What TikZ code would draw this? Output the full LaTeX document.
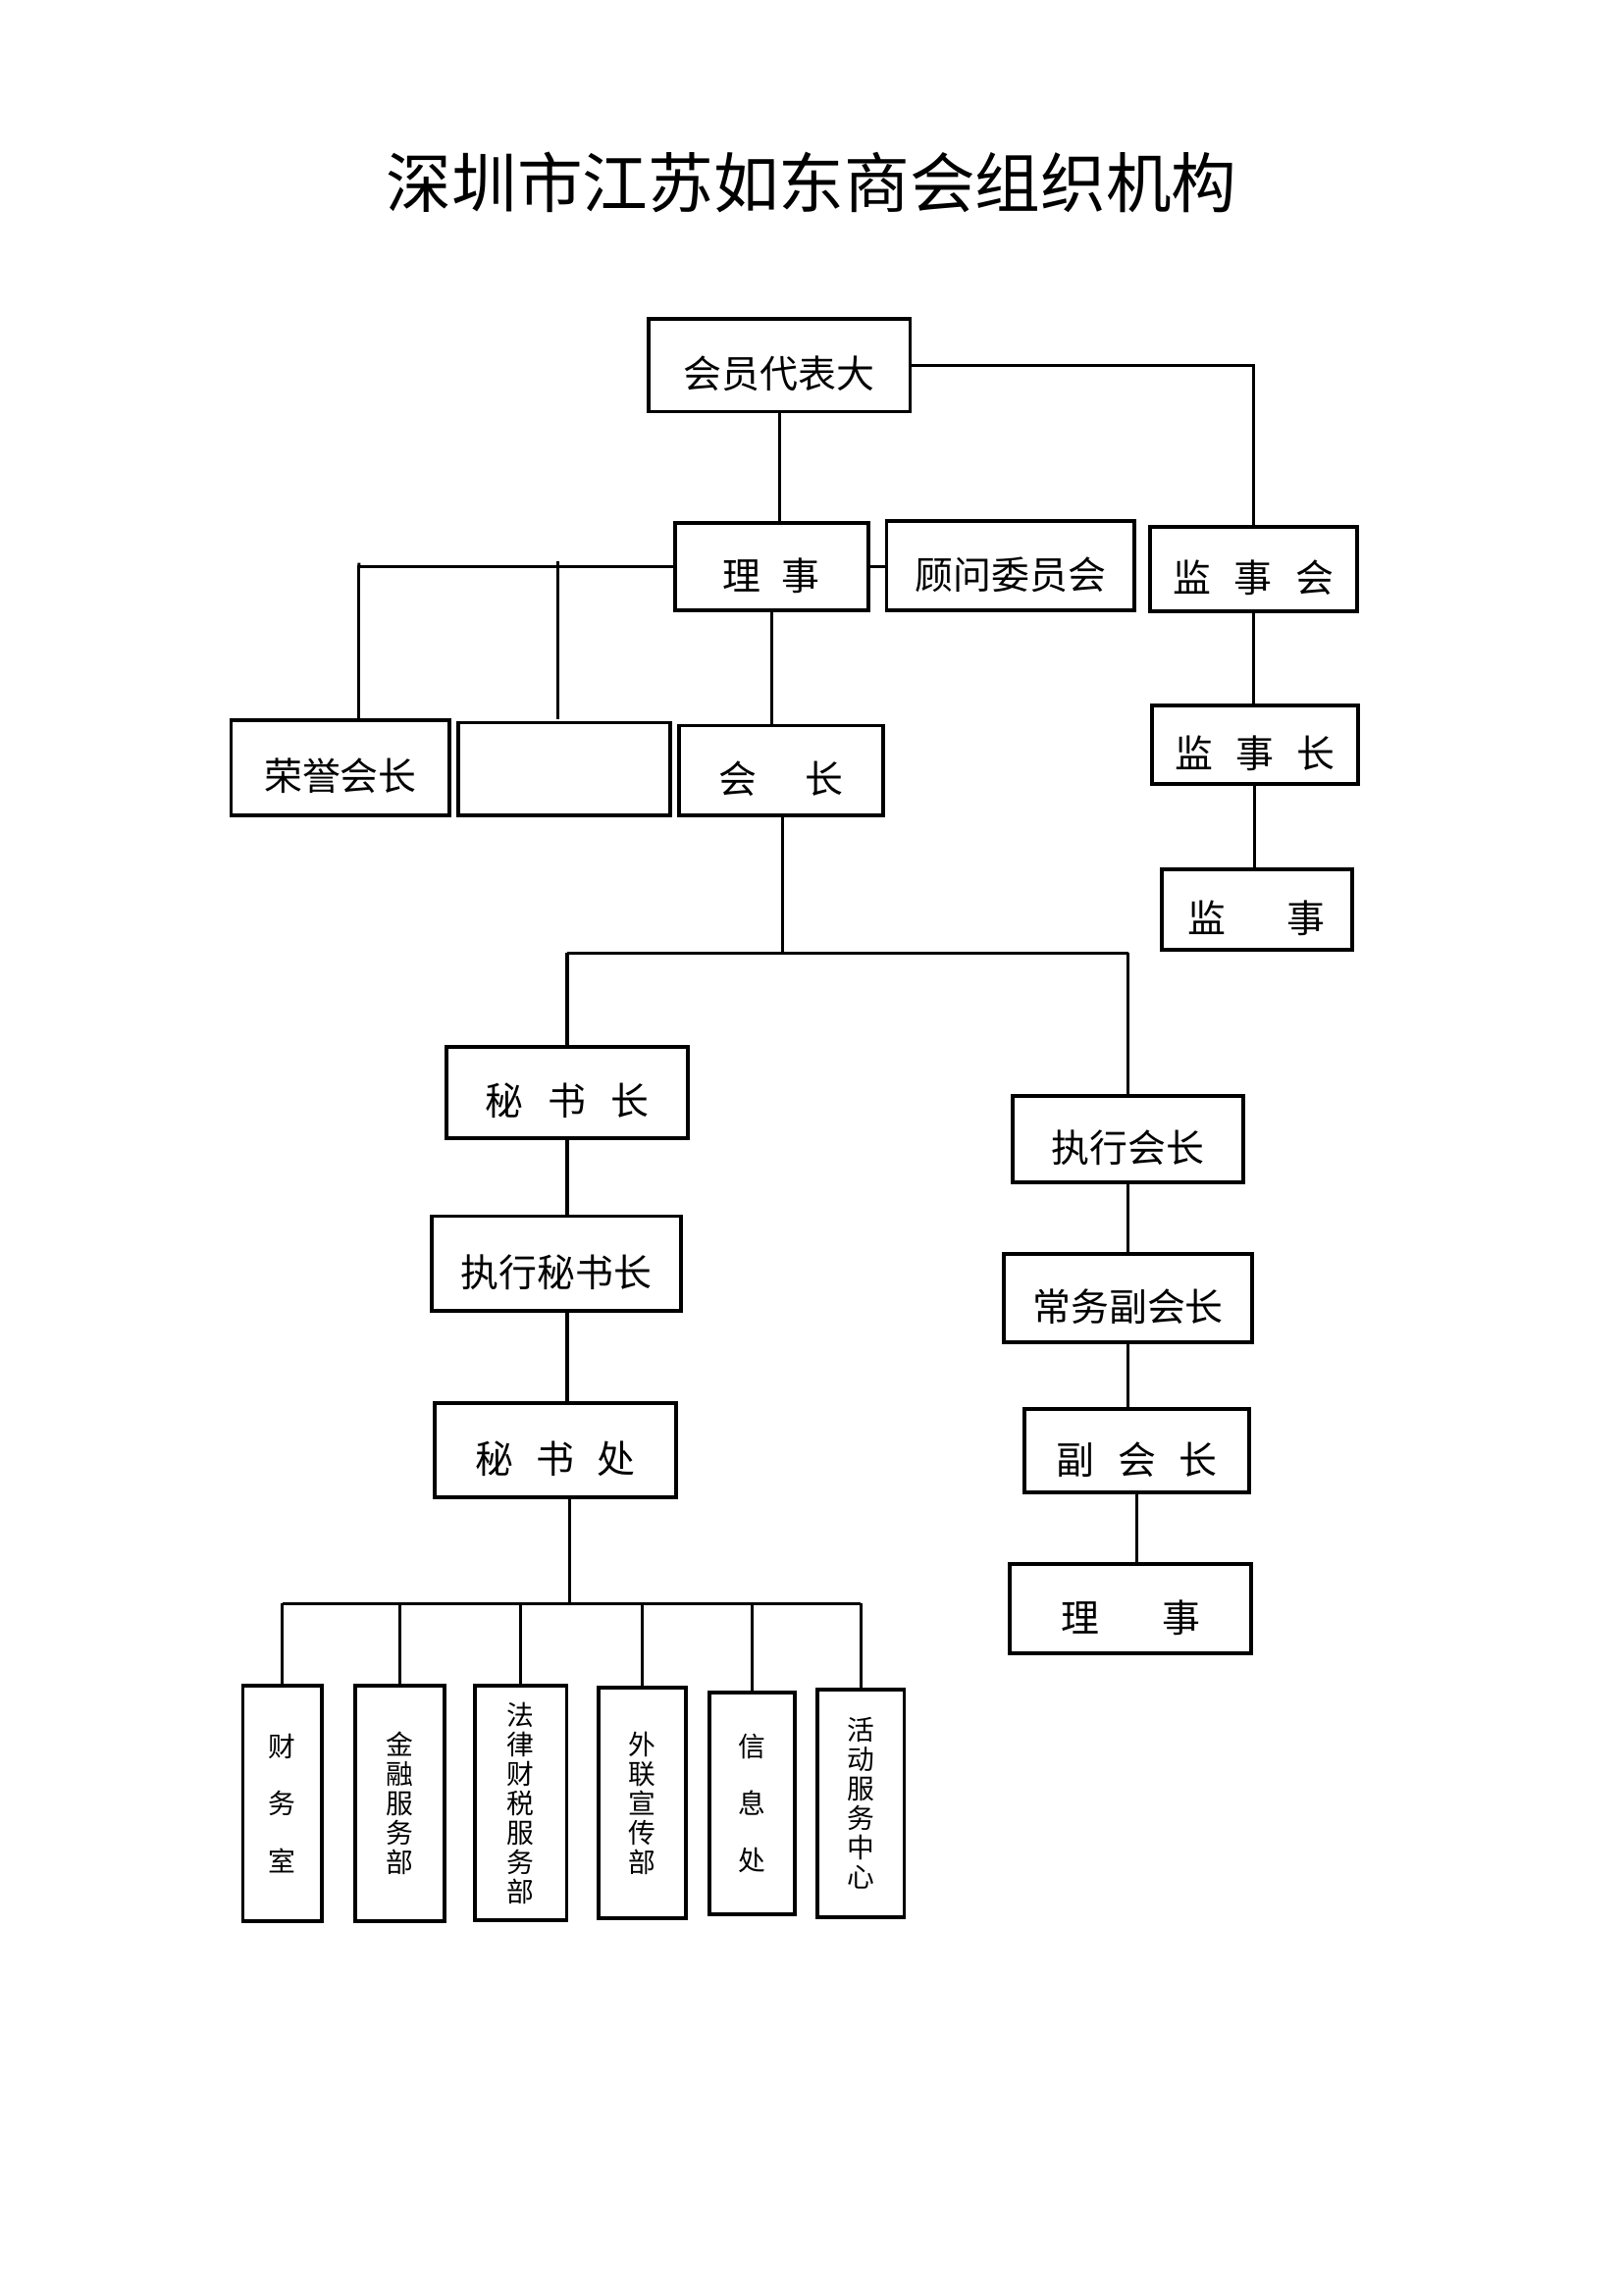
\documentclass[tikz,border=0pt]{standalone}
\usepackage{fontspec}
\setmainfont{Noto Sans CJK SC}
\newcommand{\lowtxt}[1]{\raisebox{-3.2pt}[\height][\depth]{#1}}
\newcommand{\obox}[6]{\node[box, minimum width={(#3-#1)*0.358pt}, minimum height={(#4-#2)*0.358pt}] (#5) at ({(#1+#3)/2},{(#2+#4)/2}) {\lowtxt{#6}};}
\newcommand{\vbx}[7][]{\node[box,vbox,#1, minimum width={(#4-#2)*0.358pt}, minimum height={(#5-#3)*0.358pt}] (#6) at ({(#2+#4)/2},{(#3+#5)/2}) {#7};}
\begin{document}
\begin{tikzpicture}[x=0.36pt,y=-0.36pt,
  box/.style={draw, line width=1.4pt, inner sep=0pt, outer sep=0pt, font=\fontsize{14}{16}\selectfont},
  vbox/.style={align=center, font=\fontsize{10}{10.8}\selectfont},
  conn/.style={line width=1.1pt}]
\useasboundingbox (0,0) rectangle (1654,2338);
\begin{scope}[scale=0.994]
% title
\node[font=\fontsize{24}{28}\selectfont] (title) at (832,187) {深圳市江苏如东商会组织机构};
% boxes: x1 y1 x2 y2 name text
\obox{665}{327}{933}{422}{hy}{会员代表大}
\obox{692}{536}{890}{626}{ls}{理\hspace{0.55em}事}
\obox{909}{534}{1163}{626}{gw}{顾问委员会}
\obox{1179}{540}{1391}{627}{jsh}{监\hspace{0.6em}事\hspace{0.6em}会}
\obox{237}{738}{461}{836}{ry}{荣誉会长}
\obox{470}{741}{687}{836}{bl}{}
\obox{696}{744}{905}{836}{hz}{会\hspace{1.25em}长}
\obox{1181}{723}{1392}{804}{jsz}{监\hspace{0.6em}事\hspace{0.6em}长}
\obox{1191}{891}{1386}{974}{js}{监\hspace{1.6em}事}
\obox{458}{1073}{705}{1167}{msz}{秘\hspace{0.65em}书\hspace{0.65em}长}
\obox{1038}{1124}{1275}{1212}{zh}{执行会长}
\obox{443}{1247}{698}{1344}{zms}{执行秘书长}
\obox{1029}{1286}{1284}{1376}{cw}{常务副会长}
\obox{446}{1439}{693}{1535}{msc}{秘\hspace{0.6em}书\hspace{0.6em}处}
\obox{1050}{1445}{1281}{1530}{fh}{副\hspace{0.6em}会\hspace{0.6em}长}
\obox{1035}{1604}{1283}{1695}{lsb}{理\hspace{1.65em}事}
% bottom departments
\vbx[font=\fontsize{10}{21}\selectfont]{249}{1728}{330}{1970}{cws}{财\\务\\室}
\vbx{364}{1728}{456}{1970}{jr}{金\\融\\服\\务\\部}
\vbx{487}{1728}{581}{1969}{fl}{法\\律\\财\\税\\服\\务\\部}
\vbx{614}{1730}{703}{1967}{wl}{外\\联\\宣\\传\\部}
\vbx[font=\fontsize{10}{21}\selectfont]{727}{1735}{815}{1963}{xx}{信\\息\\处}
\vbx{838}{1732}{927}{1966}{hd}{活\\动\\服\\务\\中\\心}
% connectors
\draw[conn] (hy.south) -- (hy.south |- ls.north);
\draw[conn] (hy.east) -| (jsh.north);
\coordinate (c1) at (368,581);
\coordinate (c2) at (572,581);
\draw[conn] (ls.west) -- (c1) -- (c1 |- ry.north);
\draw[conn] (572,575) -- (572,737);
\draw[conn] (368,577) -- (c1);
\draw[conn] (ls.east) -- (gw.west |- ls.east);
\draw[conn] (ls.south) -- (ls.south |- hz.north);
\draw[conn] (jsh.south) -- (jsh.south |- jsz.north);
\draw[conn] (jsz.south) -- (jsz.south |- js.north);
\coordinate (b1) at (802,977);
\draw[conn] (b1 |- hz.south) -- (b1);
\draw[conn] (msz.north |- b1) -- (zh.north |- b1);
\draw[conn] (msz.north |- b1) -- (msz.north);
\draw[conn] (zh.north |- b1) -- (zh.north);
\draw[conn] (msz.south) -- (msz.south |- zms.north);
\draw[conn] (msz.south |- zms.south) -- (msz.south |- msc.north);
\draw[conn] (zh.south) -- (zh.south |- cw.north);
\draw[conn] (cw.south) -- (cw.south |- fh.north);
\draw[conn] (fh.south) -- (fh.south |- lsb.north);
\coordinate (b2) at (584,1644);
\draw[conn] (b2 |- msc.south) -- (b2);
\draw[conn] (cws.north |- b2) -- (hd.north |- b2);
\foreach \n in {cws,jr,fl,wl,xx,hd} \draw[conn] (\n.north |- b2) -- (\n.north);
\end{scope}
\end{tikzpicture}
\end{document}
